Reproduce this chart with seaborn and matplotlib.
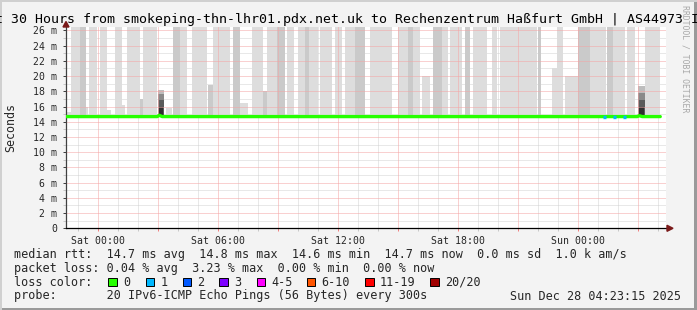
import matplotlib
matplotlib.use("Agg")
import matplotlib.pyplot as plt
import seaborn as sns
import pandas as pd
from matplotlib.patches import Rectangle, Polygon

# ---------------- data ----------------
title = "Last 30 Hours from smokeping-thn-lhr01.pdx.net.uk to Rechenzentrum Haßfurt GmbH | AS44973 IPv6"
x_tick_hours = [0, 3, 6, 9, 12, 15, 18, 21, 24, 27]     # hours after Sat 00:00
x_tick_labels = ["Sat 00:00", "", "Sat 06:00", "", "Sat 12:00", "", "Sat 18:00", "",
                 "Sun 00:00", ""]
y_tick_values = [0, 2, 4, 6, 8, 10, 12, 14, 16, 18, 20, 22, 24, 26]
y_tick_labels = ["0", "2 m", "4 m", "6 m", "8 m", "10 m", "12 m", "14 m",
                 "16 m", "18 m", "20 m", "22 m", "24 m", "26 m"]
window_start_h = -1.6125                     # Fri 22:23:15
window_end_h = 28.3875                       # Sun 04:23:15

# smoke (ping spread) columns: start/end hour, top of spread in ms, shade level
smoke_start_h = [-1.57, -1.37, -0.92, -0.62, -0.47, 0.09, 0.44, 0.84, 1.19, 1.44,
                 2.09, 2.24, 3.39, 3.74, 4.09, 4.69, 5.49, 5.74, 6.74, 7.09,
                 7.69, 8.24, 8.44, 8.94, 9.44, 9.99, 10.34, 10.54, 11.09, 11.84,
                 12.34, 12.84, 13.59, 14.99, 15.49, 15.74, 16.19, 16.74, 17.19, 17.59,
                 18.34, 18.74, 19.69, 20.09, 21.99, 22.69, 22.94, 23.34, 23.99, 24.59,
                 25.44, 25.74, 26.44, 27.34]
smoke_end_h = [-1.37, -0.92, -0.62, -0.52, -0.07, 0.44, 0.64, 1.19, 1.34, 2.09,
               2.24, 2.94, 3.69, 4.09, 4.44, 5.44, 5.74, 6.59, 7.09, 7.49,
               8.24, 8.44, 8.94, 9.34, 9.79, 10.34, 10.54, 10.99, 11.69, 12.19,
               12.84, 13.34, 14.69, 15.49, 15.74, 16.09, 16.59, 17.19, 17.49, 18.19,
               18.59, 19.44, 19.94, 21.94, 22.14, 22.94, 23.24, 23.99, 24.59, 25.39,
               25.74, 26.34, 26.84, 28.09]
smoke_top_ms = [15.3, 27, 27, 16.0, 27, 27, 15.6, 27, 16.2, 27,
                17.0, 27, 15.8, 27, 27, 27, 18.8, 27, 27, 16.5,
                27, 18.0, 27, 27, 27, 27, 27, 27, 27, 27,
                27, 27, 27, 27, 27, 27, 20.0, 27, 27, 27,
                27, 27, 27, 27, 27, 21.0, 27, 20.0, 27, 27,
                27, 27, 27, 27]
smoke_shade = [0, 0, 1, 0, 0, 0, 0, 0, 0, 0,
               1, 0, 0, 1, 0, 0, 1, 0, 1, 0,
               0, 1, 0, 1, 0, 0, 1, 0, 0, 0,
               0, 1, 0, 0, 1, 0, 0, 1, 0, 0,
               1, 0, 0, 0, 1, 0, 0, 0, 1, 0,
               1, 0, 0, 0]
smoke_base_ms = 14.6

# two latency spikes, drawn as nested bands (outer to inner)
spike_start_h = [2.99, 26.99]
spike_end_h = [3.29, 27.34]
spike_band_tops_ms = [[18.2, 17.6, 16.8, 15.9], [18.7, 17.8, 16.9, 16.0]]

# median rtt line
median_h = [-1.6, 2.95, 3.05, 3.2, 26.95, 27.05, 27.2, 28.1]
median_ms = [14.68, 14.68, 14.85, 14.68, 14.68, 14.8, 14.68, 14.68]
# intervals with 1/20 packet loss
loss1_h = [25.22, 25.72, 26.22]
loss1_ms = [14.68, 14.68, 14.68]

loss_labels = ["0", "1", "2", "3", "4-5", "6-10", "11-19", "20/20"]
loss_colors = ["#26ff00", "#00b8ff", "#0059ff", "#7e00ff", "#ff00ff", "#ff5500", "#ff0000", "#a10000"]

legend_rows = [
    "median rtt:  14.7 ms avg  14.8 ms max  14.6 ms min  14.7 ms now  0.0 ms sd  1.0 k am/s",
    "packet loss: 0.04 % avg  3.23 % max  0.00 % min  0.00 % now",
]
probe_text = "probe:       20 IPv6-ICMP Echo Pings (56 Bytes) every 300s"
date_text = "Sun Dec 28 04:23:15 2025"

# ---------------- figure ----------------
W, H = 697, 310
sns.set_theme(style="white")
plt.rcParams["font.family"] = ["DejaVu Sans Mono", "DejaVu Sans"]

fig = plt.figure(figsize=(W / 100, H / 100), dpi=100)
fig.patch.set_facecolor("#f3f3f3")

def fx(px):
    return px / W

def fy(py):
    return 1 - py / H

ax_left, ax_right = 66.0, 666.0
ax_bottom_px = 228.3
px_per_ms = 7.61
ymax = 26.5
ax_top_px = ax_bottom_px - ymax * px_per_ms
ax = fig.add_axes([fx(ax_left), fy(ax_bottom_px), (ax_right - ax_left) / W,
                   (ax_bottom_px - ax_top_px) / H])
ax.set_facecolor("white")
ax.set_xlim(window_start_h, window_end_h)
ax.set_ylim(0, ymax)

# grids
major_c = "#f5a3a3"
minor_c = "#d2d2d2"
dot = (0, (1, 1))
for h in range(-1, 29):
    if h % 3 != 0:
        ax.axvline(h, color=minor_c, lw=0.72, ls=dot, zorder=0.5)
for m in range(1, 27, 2):
    ax.axhline(m, color=minor_c, lw=0.72, ls=dot, zorder=0.5)
for h in range(0, 29, 3):
    ax.axvline(h, color=major_c, lw=0.72, ls=dot, zorder=2.5)
for m in range(2, 27, 2):
    ax.axhline(m, color=major_c, lw=0.72, ls=dot, zorder=2.5)

# smoke
shade_colors = ["#dddddd", "#cacaca"]
for s, e, t, sh in zip(smoke_start_h, smoke_end_h, smoke_top_ms, smoke_shade):
    ax.bar(s, t - smoke_base_ms, width=e - s, bottom=smoke_base_ms, align="edge",
           color=shade_colors[sh], linewidth=0, zorder=1)
band_colors = ["#bdbdbd", "#8a8a8a", "#5a5a5a", "#303030"]
for s, e, tops in zip(spike_start_h, spike_end_h, spike_band_tops_ms):
    for k, (t, c) in enumerate(zip(tops, band_colors)):
        inset = 0.012 * k
        ax.bar(s + inset, t - smoke_base_ms, width=e - s - 2 * inset, bottom=smoke_base_ms,
               align="edge", color=c, linewidth=0, zorder=1.2 + 0.1 * k)

# median line
df = pd.DataFrame({"h": median_h, "ms": median_ms})
sns.lineplot(data=df, x="h", y="ms", ax=ax, color=loss_colors[0], lw=2.4, zorder=3)
for h, v in zip(loss1_h, loss1_ms):
    ax.plot([h, h + 0.15], [v, v], color=loss_colors[1], lw=2.4, solid_capstyle="butt", zorder=4)

# ticks
ax.set_xticks(x_tick_hours)
ax.set_xticklabels(x_tick_labels, fontsize=7.1)
ax.set_xticks([h for h in range(-1, 29) if h % 3 != 0], minor=True)
ax.set_yticks(y_tick_values)
ax.set_yticklabels(y_tick_labels, fontsize=7.1)
ax.set_yticks(list(range(1, 27, 2)), minor=True)
ax.tick_params(axis="x", which="major", length=2.5, color="#f08080", width=0.72, pad=3,
               bottom=True)
ax.tick_params(axis="x", which="minor", length=2, color="#c8c8c8", width=0.72, bottom=True)
ax.tick_params(axis="y", which="major", length=2.5, color="#404040", width=0.72, pad=4,
               left=True)
ax.tick_params(axis="y", which="minor", length=2, color="#c8c8c8", width=0.72, left=True)
ax.set_xlabel("")
ax.set_ylabel("")
for sp in ["top", "right"]:
    ax.spines[sp].set_visible(False)
ax.spines["left"].set_color("#404040")
ax.spines["left"].set_linewidth(0.9)
ax.spines["bottom"].set_color("#000000")
ax.spines["bottom"].set_linewidth(0.9)

# axis arrows
fig.patches.append(Polygon([[fx(63), fy(27)], [fx(69), fy(27)], [fx(66), fy(21.5)]],
                           closed=True, transform=fig.transFigure, color="#7a1a1a"))
fig.patches.append(Polygon([[fx(667), fy(225.3)], [fx(667), fy(231.3)], [fx(673), fy(228.3)]],
                           closed=True, transform=fig.transFigure, color="#7a1a1a"))

# texts
fig.text(fx(347), fy(19), title, ha="center", va="center", fontsize=9.5, color="black")
fig.text(fx(11), fy(127), "Seconds", rotation=90, ha="center", va="center", fontsize=8.4)
fig.text(fx(685), fy(5), "RRDTOOL / TOBI OETIKER", rotation=270, ha="center", va="top",
         fontsize=5.9, color="#a8a8a8")

fs = 8.5
rows = [254.3, 268.3, 282.0, 296.0]
fig.text(fx(14.5), fy(rows[0]), legend_rows[0], ha="left", va="center", fontsize=fs)
fig.text(fx(14.5), fy(rows[1]), legend_rows[1], ha="left", va="center", fontsize=fs)
fig.text(fx(14.5), fy(rows[2]), "loss color:", ha="left", va="center", fontsize=fs)
sw_x = [108.3, 145.7, 182.7, 219.3, 256.7, 306.7, 365.3, 430.3]
for x, lab, c in zip(sw_x, loss_labels, loss_colors):
    fig.patches.append(Rectangle((fx(x), fy(rows[2] + 4.3)), 8.4 / W, 8.6 / H,
                                 transform=fig.transFigure, facecolor=c,
                                 edgecolor="black", linewidth=0.7))
    fig.text(fx(x + 14.5), fy(rows[2]), lab, ha="left", va="center", fontsize=fs)
fig.text(fx(14.5), fy(rows[3]), probe_text, ha="left", va="center", fontsize=fs)
fig.text(fx(680.5), fy(rows[3]), date_text, ha="right", va="center", fontsize=fs)

# frame
fig.patches.append(Rectangle((0, 0), 1, 2.5 / H, transform=fig.transFigure,
                             facecolor="#9a9a9a", edgecolor="none"))
fig.patches.append(Rectangle((1 - 3 / W, 0), 3 / W, 1, transform=fig.transFigure,
                             facecolor="#9a9a9a", edgecolor="none"))
fig.patches.append(Rectangle((0, 1 - 2 / H), 1, 2 / H, transform=fig.transFigure,
                             facecolor="#d0d0d0", edgecolor="none"))
fig.patches.append(Rectangle((0, 0), 2 / W, 1, transform=fig.transFigure,
                             facecolor="#d0d0d0", edgecolor="none"))

fig.savefig("out.png", dpi=100, facecolor=fig.get_facecolor())
